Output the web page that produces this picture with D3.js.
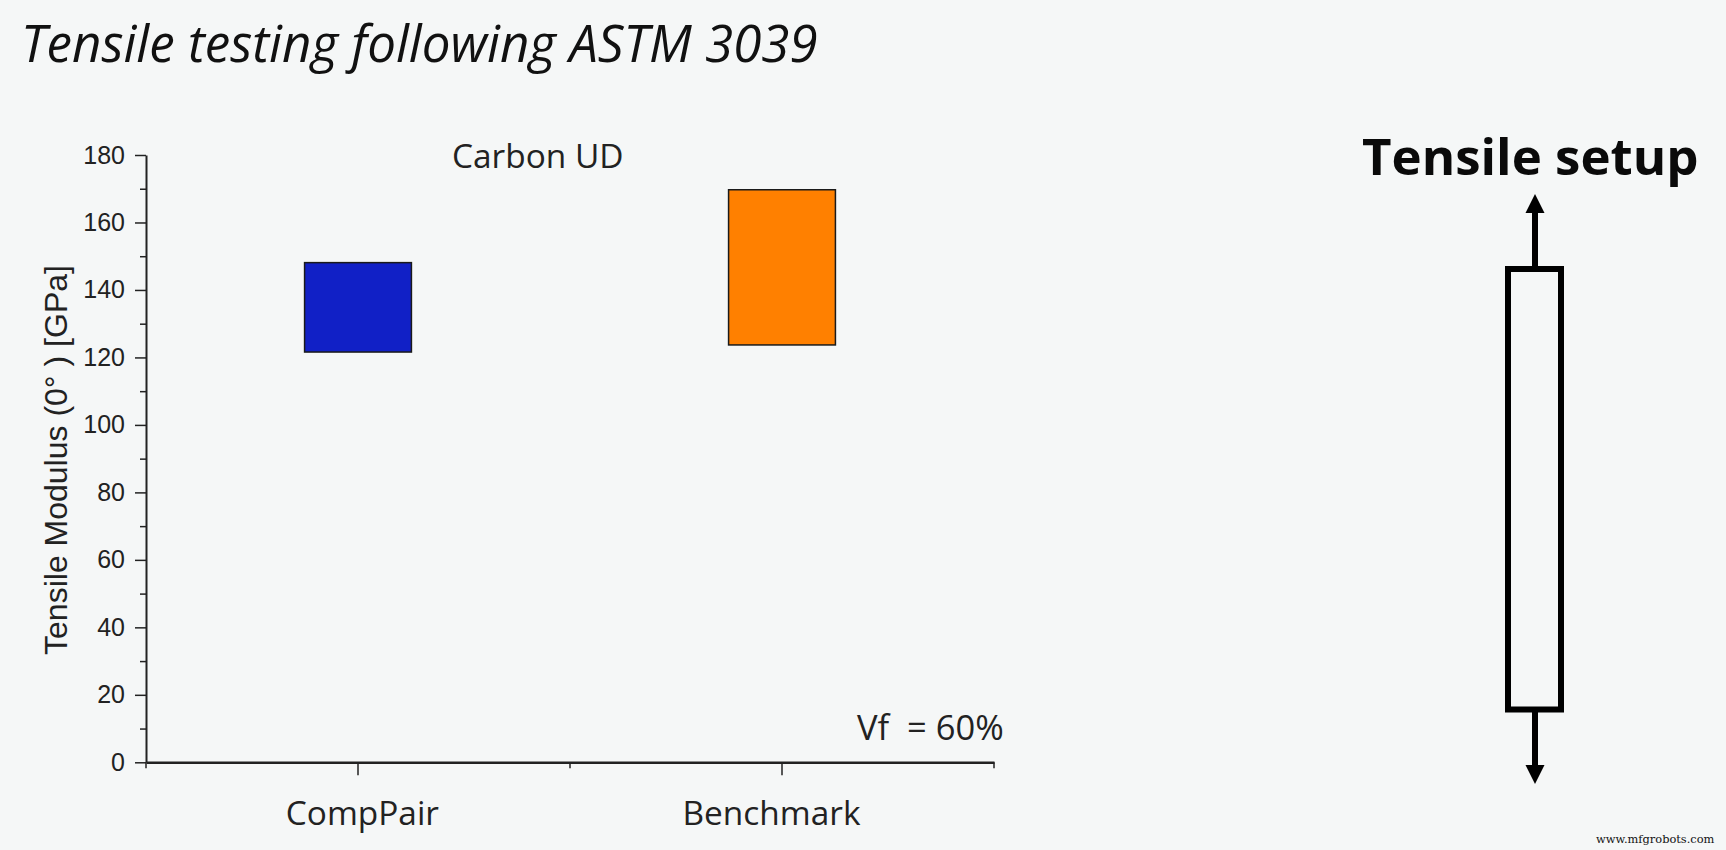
<!DOCTYPE html>
<html>
<head>
<meta charset="utf-8">
<title>Tensile testing following ASTM 3039</title>
<script src="https://cdn.jsdelivr.net/npm/d3@7"></script>
<style>
    html, body { margin: 0; padding: 0; background: #f5f7f7; overflow: hidden; }
    svg { display: block; }
    text { white-space: pre; }
</style>
</head>
<body>
<svg id="chart" width="1726" height="850"></svg>
<script>
// values
const categories = ["CompPair", "Benchmark"];
const barTops = [148.1, 169.7];
const barBottoms = [121.6, 123.7];
const barColors = ["#1120c6", "#ff8000"];
const yMajorTicks = [0, 20, 40, 60, 80, 100, 120, 140, 160, 180];
const yMinorTicks = [10, 30, 50, 70, 90, 110, 130, 150, 170];

const sansFont = "'Open Sans', sans-serif";
const axisFont = "'Liberation Sans', Arial, sans-serif";

const svg = d3.select("#chart");

const plot = { left: 146, right: 994, top: 155, bottom: 762.3 };

const xScale = d3.scaleBand()
    .domain(categories)
    .range([plot.left, plot.right]);

const yScale = d3.scaleLinear()
    .domain([0, 180])
    .range([plot.bottom, plot.top]);

const barWidth = xScale.bandwidth() * 0.252;

svg.append("text")
    .attr("x", 21)
    .attr("y", 62)
    .attr("font-family", sansFont)
    .attr("font-style", "italic")
    .attr("font-size", 51.1)
    .attr("fill", "#111")
    .text("Tensile testing following ASTM 3039");

// bars
svg.append("g")
    .selectAll("rect")
    .data(categories)
    .join("rect")
    .attr("x", d => xScale(d) + xScale.bandwidth() / 2 - barWidth / 2)
    .attr("y", (d, i) => yScale(barTops[i]))
    .attr("width", barWidth)
    .attr("height", (d, i) => yScale(barBottoms[i]) - yScale(barTops[i]))
    .attr("fill", (d, i) => barColors[i])
    .attr("stroke", "#1a1a1a")
    .attr("stroke-width", 1.5);

// y axis, minor ticks first so the major ones sit on top
const yAxisG = svg.append("g").attr("transform", `translate(${plot.left},0)`);

yAxisG.append("g")
    .call(d3.axisLeft(yScale).tickValues(yMinorTicks).tickSize(6).tickFormat(""))
    .call(g => g.select(".domain").remove())
    .call(g => g.selectAll("line").attr("stroke", "#222").attr("stroke-width", 1.5));

yAxisG.append("g")
    .call(d3.axisLeft(yScale).tickValues(yMajorTicks).tickSize(11).tickSizeOuter(0).tickPadding(10))
    .call(g => g.select(".domain").attr("stroke", "#222").attr("stroke-width", 2))
    .call(g => g.selectAll("line").attr("stroke", "#222").attr("stroke-width", 1.5))
    .call(g => g.selectAll("text")
        .attr("font-family", axisFont)
        .attr("font-size", 25)
        .attr("fill", "#222"));

svg.append("text")
    .attr("transform", `translate(67,${(267 + 653) / 2}) rotate(-90)`)
    .attr("text-anchor", "middle")
    .attr("font-family", axisFont)
    .attr("font-size", 32)
    .attr("fill", "#222")
    .text("Tensile Modulus (0° ) [GPa]");

// x axis
const xAxisG = svg.append("g").attr("transform", `translate(0,${plot.bottom})`);

xAxisG.append("g")
    .call(d3.axisBottom(xScale).tickSize(13).tickSizeOuter(0).tickPadding(26))
    .call(g => g.select(".domain").attr("stroke", "#222").attr("stroke-width", 2.5))
    .call(g => g.selectAll("line").attr("stroke", "#222").attr("stroke-width", 1.5))
    .call(g => g.selectAll("text")
        .attr("font-family", sansFont)
        .attr("font-size", 33.4)
        .attr("fill", "#222")
        // the labels in the original do not sit quite under their ticks
        .attr("dx", (d, i) => i === 0 ? 4.4 : -10.5));

// minor ticks sit on the band edges
xAxisG.append("g")
    .selectAll("line")
    .data([plot.left, xScale(categories[1]), plot.right])
    .join("line")
    .attr("x1", d => d)
    .attr("x2", d => d)
    .attr("y1", 0)
    .attr("y2", 6)
    .attr("stroke", "#222")
    .attr("stroke-width", 1.5);

svg.append("text")
    .attr("x", 452)
    .attr("y", 168)
    .attr("font-family", sansFont)
    .attr("font-size", 33.4)
    .attr("fill", "#222")
    .text("Carbon UD");

svg.append("text")
    .attr("x", 857)
    .attr("y", 740)
    .attr("font-family", sansFont)
    .attr("font-size", 34.5)
    .attr("fill", "#222")
    .text("Vf  = 60%");

// tensile setup sketch on the right
svg.append("text")
    .attr("x", 1362)
    .attr("y", 175)
    .attr("font-family", sansFont)
    .attr("font-weight", 700)
    .attr("font-size", 51)
    .attr("fill", "#0a0a0a")
    .text("Tensile setup");

const sketch = svg.append("g");
const arrowX = 1535;

sketch.append("rect")
    .attr("x", 1508)
    .attr("y", 269)
    .attr("width", 53)
    .attr("height", 440.5)
    .attr("fill", "none")
    .attr("stroke", "#000")
    .attr("stroke-width", 6);

sketch.selectAll("line")
    .data([[266, 212], [712, 766]])
    .join("line")
    .attr("x1", arrowX)
    .attr("x2", arrowX)
    .attr("y1", d => d[0])
    .attr("y2", d => d[1])
    .attr("stroke", "#000")
    .attr("stroke-width", 6);

sketch.selectAll("path")
    .data([[194, 213], [784, 765]])
    .join("path")
    .attr("d", d => d3.line()([[arrowX, d[0]], [arrowX + 9.5, d[1]], [arrowX - 9.5, d[1]]]) + "Z")
    .attr("fill", "#000");

svg.append("text")
    .attr("x", 1596)
    .attr("y", 843)
    .attr("font-family", "'DejaVu Serif', serif")
    .attr("font-size", 11.4)
    .attr("fill", "#111")
    .text("www.mfgrobots.com");
</script>
</body>
</html>
